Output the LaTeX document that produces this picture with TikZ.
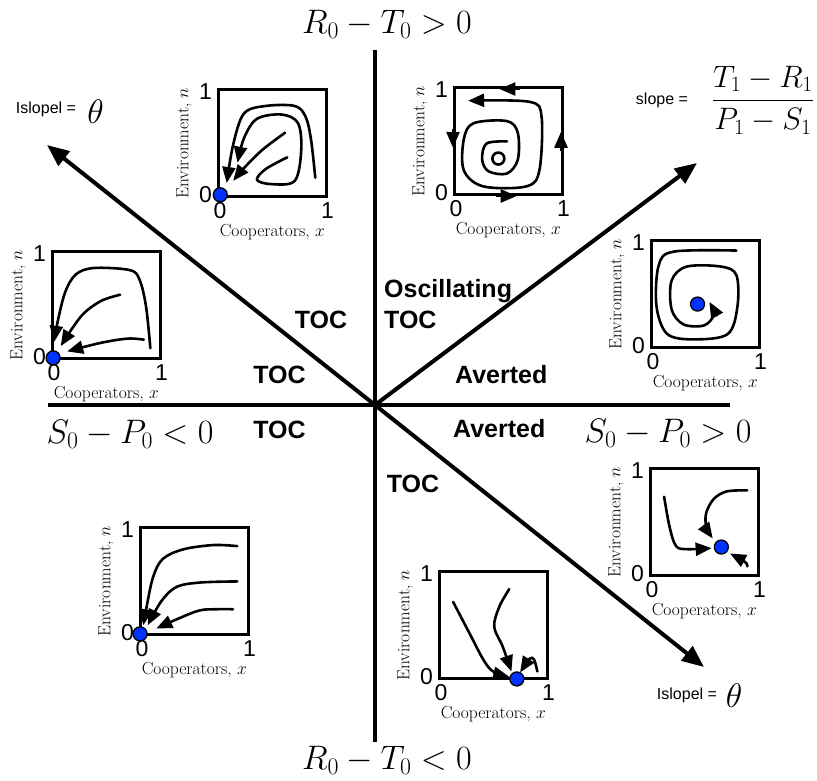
\RequirePackage{fix-cm}
\documentclass[tikz,border=0pt]{standalone}
\usepackage{amsmath}
\usepackage{fontspec}
\setsansfont{Liberation Sans}
\usetikzlibrary{arrows.meta}
\definecolor{dotblue}{RGB}{0,51,255}
\tikzset{
  ax/.style={line width=4pt},
  bigtip/.style={-{Triangle[length=22pt,width=18pt]}},
  box/.style={draw, line width=2.6pt, minimum width=108pt, minimum height=107pt, inner sep=0pt, anchor=south west},
  crv/.style={line width=2.6pt, line cap=round, line join=round},
  tipc/.style={-{Triangle[length=16pt,width=13pt]}},
  reg/.style={font=\fontsize{25}{30}\selectfont\sffamily\bfseries, inner sep=0pt},
  bigm/.style={font=\fontsize{34}{40}\selectfont, inner sep=0pt},
  tick/.style={font=\fontsize{23}{26}\selectfont\sffamily, inner sep=0pt},
  axl/.style={font=\fontsize{17.5}{20}\selectfont, inner sep=0pt},
  small/.style={font=\fontsize{16}{19}\selectfont\sffamily, inner sep=0pt},
  thet/.style={font=\fontsize{34}{40}\selectfont, inner sep=0pt},
  fracf/.style={font=\fontsize{31}{36}\selectfont, inner sep=0pt},
  dot/.style={circle, fill=dotblue, draw=black, line width=1.3pt, minimum size=14pt, inner sep=0pt},
  sm/.style={smooth, tension=0.55}
}
\newcommand\pane[3]{%
  \node[box] (#1) at (#2,#3) {};
  \node[tick, anchor=east, xshift=-5pt, yshift=-3pt] (#1-n1) at (#1.north west) {1};
  \node[tick, anchor=east, xshift=-5pt, yshift=3pt] (#1-n0) at (#1.south west) {0};
  \node[tick, anchor=north, xshift=3pt, yshift=-4pt] (#1-x0) at (#1.south west) {0};
  \node[tick, anchor=north, yshift=-4pt] (#1-x1) at (#1.south east) {1};
  \node[axl, anchor=north, yshift=-26pt] (#1-xl) at (#1.south) {Cooperators, $x$};
  \node[axl, rotate=90] (#1-yl) at ([xshift=-33pt]#1.west) {Environment, $n$};
}
\begin{document}
\begin{tikzpicture}[x=1pt,y=-1pt]
\useasboundingbox (0,0) rectangle (817,781);

% main axes
\coordinate (c) at (375,405);
\coordinate (vt) at (375,50);
\coordinate (vb) at (375,742);
\coordinate (hl) at (48,405);
\coordinate (hr) at (730,405);
\coordinate (ul) at (47,145);
\coordinate (ur) at (697,163);
\coordinate (lr) at (704,667);
\draw[ax] (vt) -- (vb);
\draw[ax] (hl) -- (hr);
\draw[ax, bigtip] (c) -- (ul);
\draw[ax, bigtip] (c) -- (ur);
\draw[ax, bigtip] (c) -- (lr);

% big labels
\node[bigm] (top) at (387,24) {$R_0-T_0>0$};
\node[bigm] (bot) at (387,760) {$R_0-T_0<0$};
\node[bigm] (lft) at (130,434) {$S_0-P_0<0$};
\node[bigm] (rgt) at (668,433) {$S_0-P_0>0$};

% region labels
\node[reg, anchor=base] (t1) at (321,328) {TOC};
\node[reg, anchor=base west] (osc) at (384,297) {Oscillating};
\node[reg, anchor=base west] (t2) at (384,328) {TOC};
\node[reg, anchor=base] (t3) at (279.5,383) {TOC};
\node[reg, anchor=base] (t4) at (279.5,438) {TOC};
\node[reg, anchor=base west] (av1) at (455,383) {Averted};
\node[reg, anchor=base west] (av2) at (453,437) {Averted};
\node[reg, anchor=base] (t5) at (413,492) {TOC};

% slope labels
\node[small] (isl1) at (46,109) {Islopel =};
\node[thet] (th1) at (95.5,112) {$\theta$};
\node[small] (isl2) at (687,695) {Islopel =};
\node[thet] (th2) at (734,696) {$\theta$};
\node[small] (sl) at (662,100) {slope =};
\node[fracf] (frac) at (763,100) {$\dfrac{T_1-R_1}{P_1-S_1}$};

% ---- inset 1 (top left)
\pane{p1}{217}{198}
\begin{scope}[shift={(p1.south west)}, x={(108pt,0pt)}, y={(0pt,107pt)}]
\draw[crv, tipc] plot[sm] coordinates {(0.91,0.19) (0.87,0.55) (0.82,0.76) (0.72,0.86) (0.45,0.86) (0.25,0.79) (0.15,0.50) (0.09,0.14)};
\draw[crv, tipc] plot[sm] coordinates {(0.65,0.38) (0.45,0.27) (0.37,0.17) (0.50,0.13) (0.72,0.16) (0.78,0.45) (0.75,0.70) (0.60,0.78) (0.37,0.74) (0.25,0.56) (0.19,0.33)};
\draw[crv, tipc] plot[sm] coordinates {(0.63,0.61) (0.42,0.45) (0.25,0.28) (0.15,0.16)};
\node[dot] (p1-d) at (0.03,0.03) {};
\end{scope}

% ---- inset 2 (oscillating)
\pane{p2}{453}{196}
\begin{scope}[shift={(p2.south west)}, x={(108pt,0pt)}, y={(0pt,107pt)}]
\draw[crv, tipc] plot[sm] coordinates {(0.50,0.51) (0.31,0.49) (0.27,0.34) (0.33,0.23) (0.50,0.21) (0.60,0.34) (0.60,0.59) (0.50,0.70) (0.19,0.68) (0.10,0.53) (0.10,0.24) (0.28,0.09) (0.68,0.09) (0.80,0.24) (0.82,0.74) (0.71,0.88) (0.14,0.89)};
\draw[crv] (0.42,0.35) circle[radius=6pt];
\coordinate (p2-a) at (0.62,1); \coordinate (p2-b) at (0.43,1);
\coordinate (p2-c) at (1,0.42); \coordinate (p2-d) at (1,0.60);
\coordinate (p2-e) at (0.40,0); \coordinate (p2-f) at (0.59,0);
\coordinate (p2-g) at (0,0.63); \coordinate (p2-h) at (0,0.45);
\draw[line width=2.6pt, tipc] (p2-a) -- (p2-b);
\draw[line width=2.6pt, tipc] (p2-c) -- (p2-d);
\draw[line width=2.6pt, tipc] (p2-e) -- (p2-f);
\draw[line width=2.6pt, tipc] (p2-g) -- (p2-h);
\end{scope}

% ---- inset 3 (left)
\pane{p3}{51}{360}
\begin{scope}[shift={(p3.south west)}, x={(108pt,0pt)}, y={(0pt,107pt)}]
\draw[crv, tipc] plot[sm] coordinates {(0.92,0.11) (0.88,0.50) (0.82,0.75) (0.73,0.84) (0.40,0.86) (0.23,0.80) (0.13,0.63) (0.06,0.35) (0.03,0.17)};
\draw[crv, tipc] plot[sm] coordinates {(0.64,0.61) (0.46,0.55) (0.28,0.41) (0.09,0.13)};
\draw[crv, tipc] plot[sm] coordinates {(0.86,0.19) (0.71,0.20) (0.46,0.16) (0.15,0.08)};
\node[dot] (p3-d) at (0.02,0.02) {};
\end{scope}

% ---- inset 4 (right)
\pane{p4}{650}{349}
\begin{scope}[shift={(p4.south west)}, x={(108pt,0pt)}, y={(0pt,107pt)}]
\draw[crv, tipc] plot[sm] coordinates {(0.80,0.92) (0.22,0.91) (0.08,0.78) (0.06,0.40) (0.16,0.14) (0.41,0.09) (0.72,0.14) (0.81,0.40) (0.80,0.69) (0.66,0.77) (0.34,0.77) (0.20,0.64) (0.20,0.37) (0.31,0.23) (0.50,0.22) (0.59,0.32) (0.55,0.44)};
\node[dot] (p4-d) at (0.44,0.42) {};
\end{scope}

% ---- inset 5 (bottom left)
\pane{p5}{139}{636}
\begin{scope}[shift={(p5.south west)}, x={(108pt,0pt)}, y={(0pt,107pt)}]
\draw[crv, tipc] plot[sm] coordinates {(0.91,0.84) (0.69,0.85) (0.41,0.81) (0.22,0.72) (0.13,0.55) (0.07,0.27) (0.04,0.10)};
\draw[crv, tipc] plot[sm] coordinates {(0.91,0.51) (0.57,0.50) (0.35,0.46) (0.21,0.33) (0.08,0.10)};
\draw[crv, tipc] plot[sm] coordinates {(0.87,0.25) (0.72,0.25) (0.53,0.23) (0.16,0.07)};
\node[dot] (p5-d) at (0.01,0.02) {};
\end{scope}

% ---- inset 6 (bottom centre)
\pane{p6}{438}{680}
\begin{scope}[shift={(p6.south west)}, x={(108pt,0pt)}, y={(0pt,107pt)}]
\draw[crv, tipc] plot[sm] coordinates {(0.14,0.73) (0.29,0.44) (0.42,0.19) (0.51,0.08) (0.66,0.03)};
\draw[crv, tipc] plot[sm] coordinates {(0.66,0.85) (0.57,0.69) (0.52,0.50) (0.60,0.31) (0.68,0.08)};
\draw[crv, tipc] plot[sm] coordinates {(0.92,0.08) (0.89,0.19) (0.85,0.20) (0.76,0.07)};
\node[dot] (p6-d) at (0.73,0.01) {};
\end{scope}

% ---- inset 7 (bottom right)
\pane{p7}{649}{577}
\begin{scope}[shift={(p7.south west)}, x={(108pt,0pt)}, y={(0pt,107pt)}]
\draw[crv, tipc] plot[sm] coordinates {(0.14,0.75) (0.19,0.47) (0.25,0.29) (0.35,0.26) (0.58,0.27)};
\draw[crv, tipc] plot[sm] coordinates {(0.91,0.81) (0.72,0.80) (0.60,0.73) (0.53,0.60) (0.53,0.47) (0.59,0.36)};
\draw[crv, tipc] plot[sm] coordinates {(0.91,0.10) (0.89,0.14) (0.75,0.22)};
\node[dot] (p7-d) at (0.67,0.28) {};
\end{scope}
\end{tikzpicture}
\end{document}
